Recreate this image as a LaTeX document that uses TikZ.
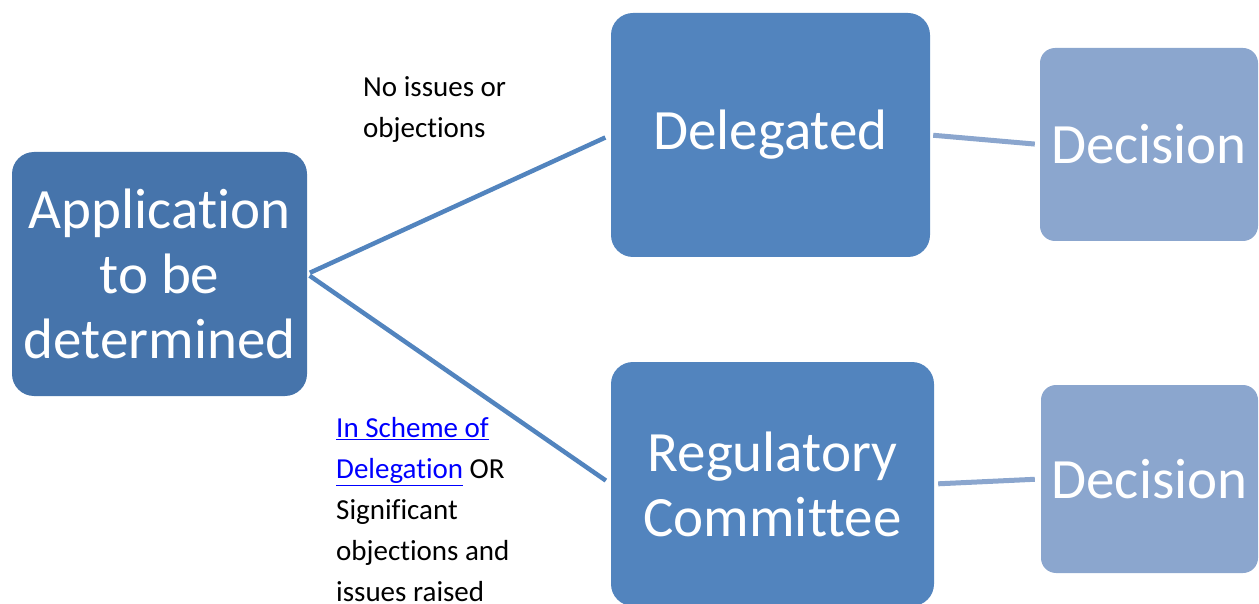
\documentclass[tikz,border=0pt]{standalone}
\usepackage{fontspec}
\setmainfont{Carlito}[Ligatures={NoCommon,NoContextual}]

\definecolor{appblue}{RGB}{70,116,171}
\definecolor{stepblue}{RGB}{82,132,190}
\definecolor{endblue}{RGB}{139,166,206}
\definecolor{linkblue}{RGB}{0,0,255}

\newcommand{\doclink}[1]{{\color{linkblue}\underline{#1}}}

\tikzset{
  bigbox/.style={rounded corners=22, draw=none, text=white, align=center, inner sep=0pt,
    font=\fontsize{57}{65}\selectfont},
  endbox/.style={rounded corners=15, draw=none, fill=endblue, text=white, inner sep=0pt,
    font=\fontsize{57}{65}\selectfont},
  branch/.style={color=stepblue, line width=4.5},
  tail/.style={color=endblue, line width=5},
  note/.style={anchor=north west, align=left, inner sep=0pt, font=\fontsize{29}{41}\selectfont}
}

\begin{document}
\begin{tikzpicture}[x=1pt,y=1pt,yscale=-1,xscale=1]
\useasboundingbox (0,0) rectangle (1259,604);

% Boxes
\node [bigbox, fill=appblue, minimum width=295, minimum height=244] (app) at (159.5,274) {Application\\to be\\determined};
\node [bigbox, fill=stepblue, minimum width=319, minimum height=244] (del) at (770.5,135) {Delegated};
\node [bigbox, fill=stepblue, minimum width=323, minimum height=244] (reg) at (772.5,484) {Regulatory\\Committee};
\node [endbox, minimum width=218, minimum height=193] (dec1) at (1149,144.5) {Decision};
\node [endbox, minimum width=217, minimum height=188] (dec2) at (1149.5,479) {Decision};

% Lines
\draw [branch, shorten <=3, shorten >=6] (app.east) -- (del.west);
\draw [branch, shorten <=3, shorten >=6] (app.east) -- (reg.west);
\draw [tail, shorten <=3, shorten >=5] (del.east) -- (dec1.west);
\draw [tail, shorten <=4, shorten >=6] (reg.east) -- (dec2.west);

% Text Node
\node [note] (noissues) at (363,76) {No issues or\\objections};
% Text Node
\node [note] (significant) at (336,417) {\doclink{In Scheme of}\\\doclink{Delegation} OR\\Significant\\objections and\\issues raised};

\end{tikzpicture}
\end{document}
